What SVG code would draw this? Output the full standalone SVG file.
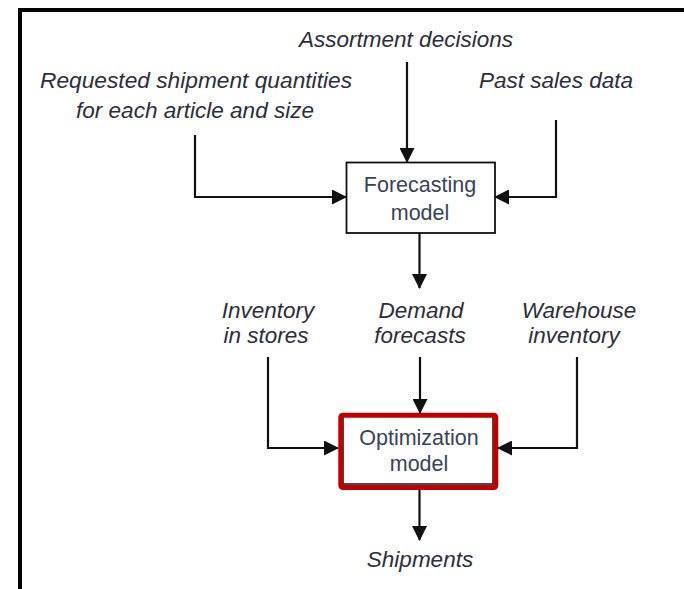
<svg xmlns="http://www.w3.org/2000/svg" width="684" height="589" viewBox="0 0 684 589">
<defs>
<style>
.lbl{font-family:"Liberation Sans",Arial,sans-serif;font-style:italic;font-size:22.5px;fill:#2e2e3a;text-anchor:middle}
.box{font-family:"Liberation Sans",Arial,sans-serif;font-size:21.5px;fill:#3a4456;text-anchor:middle}
.wire{fill:none;stroke:#111;stroke-width:2.2}
</style>
<marker id="ah" markerUnits="userSpaceOnUse" markerWidth="15" markerHeight="15" viewBox="0 0 15 15" refX="14" refY="7.5" orient="auto">
<path d="M0,0 L15,7.5 L0,15 Z" fill="#111"/>
</marker>
</defs>
<rect width="684" height="589" fill="#fff"/>
<path d="M20,589 V10 H684" fill="none" stroke="#000" stroke-width="4"/>

<g id="assortment"><text class="lbl" x="406" y="47" textLength="214" lengthAdjust="spacingAndGlyphs">Assortment decisions</text></g>
<g id="requested"><text class="lbl" x="196" y="88" textLength="312" lengthAdjust="spacingAndGlyphs">Requested shipment quantities</text><text class="lbl" x="195" y="118" textLength="238" lengthAdjust="spacingAndGlyphs">for each article and size</text></g>
<g id="pastsales"><text class="lbl" x="556" y="88" textLength="154" lengthAdjust="spacingAndGlyphs">Past sales data</text></g>
<g id="forecasting"><rect x="346.5" y="162.5" width="148.5" height="70.5" fill="#fff" stroke="#111" stroke-width="1.8"/><text class="box" x="420" y="192">Forecasting</text><text class="box" x="420" y="220">model</text></g>
<g id="inventory"><text class="lbl" x="268" y="318">Inventory</text><text class="lbl" x="266" y="343">in stores</text></g>
<g id="demand"><text class="lbl" x="421" y="318">Demand</text><text class="lbl" x="420" y="343">forecasts</text></g>
<g id="warehouse"><text class="lbl" x="579" y="318">Warehouse</text><text class="lbl" x="574" y="343">inventory</text></g>
<g id="optimization"><rect x="343" y="415" width="150" height="69" fill="#fff" stroke="#111" stroke-width="1.5"/><rect x="340.8" y="415.2" width="155" height="72.3" rx="2" fill="none" stroke="#c00000" stroke-width="5"/><text class="box" x="419" y="445">Optimization</text><text class="box" x="419" y="471">model</text></g>
<g id="shipments"><text class="lbl" x="420" y="567">Shipments</text></g>

<g id="connectors">
<path class="wire" d="M407,62 V162" marker-end="url(#ah)"/>
<path class="wire" d="M195,135 V197 H346" marker-end="url(#ah)"/>
<path class="wire" d="M556,120 V197 H495" marker-end="url(#ah)"/>
<path class="wire" d="M419.5,233 V288" marker-end="url(#ah)"/>
<path class="wire" d="M268,357 V448 H338" marker-end="url(#ah)"/>
<path class="wire" d="M420,357 V413" marker-end="url(#ah)"/>
<path class="wire" d="M577,357 V448 H498" marker-end="url(#ah)"/>
<path class="wire" d="M419.5,490 V540" marker-end="url(#ah)"/>
</g>
</svg>
